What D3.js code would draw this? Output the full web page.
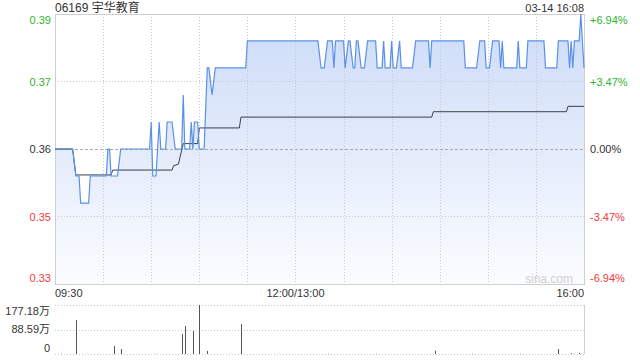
<!DOCTYPE html>
<html>
<head>
<meta charset="utf-8">
<script src="https://cdn.jsdelivr.net/npm/d3@7"></script>
<style>
  body { margin: 0; background: #fff; }
  text { font-family: "Liberation Sans", Arial, "Noto Sans CJK SC", sans-serif; }
</style>
</head>
<body>
<div id="chart-container"></div>
<script>
// minutes since 09:30 (trading time, lunch break removed) and price at that minute
const priceTimes = [0, 11, 13, 15, 16, 21, 22, 32, 33, 34, 35, 39, 41, 59, 60, 61, 63, 65, 66, 69, 70, 73, 75,
    79, 80, 81, 84, 85, 86, 87, 89, 90, 93, 95, 96, 98, 100, 119, 120, 164, 166, 168, 170, 173, 174, 175,
    180, 181, 183, 184, 186, 187, 188, 189, 191, 193, 195, 200, 201, 204, 205, 206, 209, 210, 211, 213,
    215, 216, 223, 225, 233, 234, 235, 255, 256, 263, 265, 268, 269, 271, 273, 277, 278, 279, 280, 288,
    289, 290, 294, 295, 305, 306, 313, 314, 320, 321, 322, 323, 324, 327, 328, 330];
const prices = [0.36, 0.36, 0.355, 0.355, 0.35, 0.35, 0.355, 0.355, 0.36, 0.36, 0.355, 0.355, 0.36, 0.36, 0.365, 0.355, 0.355, 0.365, 0.36, 0.36, 0.365, 0.365, 0.36,
    0.36, 0.37, 0.36, 0.36, 0.365, 0.36, 0.365, 0.365, 0.36, 0.36, 0.375, 0.375, 0.37, 0.375, 0.375, 0.38, 0.38, 0.375, 0.375, 0.38, 0.38, 0.375, 0.38,
    0.38, 0.375, 0.38, 0.38, 0.375, 0.375, 0.38, 0.38, 0.375, 0.375, 0.38, 0.38, 0.375, 0.375, 0.38, 0.375, 0.375, 0.38, 0.375, 0.375,
    0.38, 0.375, 0.375, 0.38, 0.38, 0.375, 0.38, 0.38, 0.375, 0.375, 0.38, 0.38, 0.375, 0.375, 0.38, 0.38, 0.375, 0.38, 0.375, 0.375,
    0.38, 0.375, 0.375, 0.38, 0.38, 0.375, 0.375, 0.38, 0.38, 0.375, 0.38, 0.375, 0.38, 0.38, 0.385, 0.375];

// running average price
const avgTimes = [0, 11, 13, 35, 36, 73, 74, 77, 78, 80, 89, 90, 115, 116, 235, 236, 319, 320, 330];
const avgPrices = [0.36, 0.36, 0.3552, 0.3552, 0.3561, 0.3561, 0.3569, 0.3572, 0.3585, 0.361, 0.361, 0.3639, 0.3639, 0.3659, 0.3659, 0.3669, 0.3669, 0.3679, 0.3679];

// volume bars, in 万 shares
const volTimes = [4, 13, 20, 27, 37, 41, 52, 63, 79, 81, 86, 90, 95, 110, 116, 140, 170, 200, 237, 260, 290, 314, 322, 327];
const volumes = [0.8, 123, 0.9, 0.6, 29, 18, 0.7, 0.9, 72, 101, 83, 177.18, 11, 0.8, 108, 0.9, 0.8, 0.7, 12, 0.9, 0.8, 18, 2.5, 4];

const prevClose = 0.36;
const pctTicks = [6.94, 3.47, 0, -3.47, -6.94];
const priceTickLabels = ["0.39", "0.37", "0.36", "0.35", "0.33"];
const pctTickLabels = ["+6.94%", "+3.47%", "0.00%", "-3.47%", "-6.94%"];
const volTicks = [177.18, 88.59, 0];
const volTickLabels = ["177.18万", "88.59万", "0"];
const timeTicks = [0, 150, 330];
const timeTickLabels = ["09:30", "12:00/13:00", "16:00"];

const width = 640, height = 360;
const plotLeft = 55, plotRight = 584, plotTop = 14, plotBottom = 284;
const volTop = 305, volBottom = 354;

const green = "#2fb52f", red = "#f03c3c", dark = "#333";
const tickColor = (v) => v > 0 ? green : (v < 0 ? red : dark);

const svg = d3.select("#chart-container")
    .append("svg")
        .attr("width", width)
        .attr("height", height);

const x = d3.scaleLinear().domain([0, 330]).range([plotLeft, plotRight]);
const y = d3.scaleLinear()
    .domain([prevClose * (1 - 0.0694), prevClose * (1 + 0.0694)])
    .range([plotBottom, plotTop]);
const yVol = d3.scaleLinear().domain([0, 177.18]).range([volBottom, volTop]);

// gradient for the area under the price line
const grad = svg.append("defs").append("linearGradient")
    .attr("id", "areaFill")
    .attr("x1", 0).attr("y1", 0).attr("x2", 0).attr("y2", 1);
grad.append("stop").attr("offset", "0%").attr("stop-color", "#cbdbf7");
grad.append("stop").attr("offset", "100%").attr("stop-color", "#fbfcff");

const priceData = priceTimes.map((t, i) => ({ t, p: prices[i] }));
const avgData = avgTimes.map((t, i) => ({ t, p: avgPrices[i] }));

// area
svg.append("path")
    .datum(priceData)
    .attr("fill", "url(#areaFill)")
    .attr("d", d3.area().x(d => x(d.t)).y0(plotBottom).y1(d => y(d.p)));

// vertical grid
svg.append("g")
    .selectAll("line")
    .data(d3.range(30, 330, 30))
    .enter().append("line")
        .attr("x1", d => Math.round(x(d)) + 0.5).attr("x2", d => Math.round(x(d)) + 0.5)
        .attr("y1", plotTop).attr("y2", plotBottom)
        .attr("stroke", "#c8c8c8")
        .attr("stroke-dasharray", "1,2");

// horizontal grid
const pctToPrice = v => prevClose * (1 + v / 100);
svg.append("g")
    .selectAll("line")
    .data(pctTicks.slice(1, -1))
    .enter().append("line")
        .attr("x1", plotLeft).attr("x2", plotRight)
        .attr("y1", d => Math.round(y(pctToPrice(d))) + 0.5)
        .attr("y2", d => Math.round(y(pctToPrice(d))) + 0.5)
        .attr("stroke", d => d === 0 ? "#aaa" : "#c8c8c8")
        .attr("stroke-dasharray", d => d === 0 ? "3,2" : "1,2");

// frame
svg.append("rect")
    .attr("x", plotLeft + 0.5).attr("y", plotTop + 0.5)
    .attr("width", plotRight - plotLeft).attr("height", plotBottom - plotTop)
    .attr("fill", "none")
    .attr("stroke", "#cfcfcf");

// watermark
svg.append("text")
    .attr("x", 573).attr("y", 283)
    .attr("text-anchor", "end")
    .attr("font-size", 12)
    .attr("fill", "#d0d0d0")
    .text("sina.com");

// average line
svg.append("path")
    .datum(avgData)
    .attr("fill", "none")
    .attr("stroke", "#3a3f4a")
    .attr("stroke-width", 1)
    .attr("d", d3.line().x(d => x(d.t)).y(d => y(d.p)));

// price line
svg.append("path")
    .datum(priceData)
    .attr("fill", "none")
    .attr("stroke", "#5a90e8")
    .attr("stroke-width", 1.2)
    .attr("d", d3.line().x(d => x(d.t)).y(d => y(d.p)));

// left price labels
const labelY = (v, i) => {
    const yy = y(pctToPrice(v));
    if (i === 0) return yy + 6;
    if (i === pctTicks.length - 1) return yy - 6;
    return yy;
};
svg.append("g")
    .selectAll("text")
    .data(pctTicks)
    .enter().append("text")
        .attr("x", 51)
        .attr("y", (d, i) => labelY(d, i) + 4)
        .attr("text-anchor", "end")
        .attr("font-size", 11)
        .attr("fill", d => tickColor(d))
        .text((d, i) => priceTickLabels[i]);

// right percent labels
svg.append("g")
    .selectAll("text")
    .data(pctTicks)
    .enter().append("text")
        .attr("x", 590)
        .attr("y", (d, i) => labelY(d, i) + 4)
        .attr("font-size", 11)
        .attr("fill", d => tickColor(d))
        .text((d, i) => pctTickLabels[i]);

// time labels
svg.append("g")
    .selectAll("text")
    .data(timeTicks)
    .enter().append("text")
        .attr("x", d => x(d))
        .attr("y", 297)
        .attr("text-anchor", (d, i) => i === 0 ? "start" : (i === timeTicks.length - 1 ? "end" : "middle"))
        .attr("font-size", 11)
        .attr("fill", dark)
        .text((d, i) => timeTickLabels[i]);

// title and timestamp
svg.append("text")
    .attr("x", 55).attr("y", 12)
    .attr("font-size", 12)
    .attr("fill", dark)
    .text("06169 宇华教育");
svg.append("text")
    .attr("x", 584).attr("y", 12)
    .attr("text-anchor", "end")
    .attr("font-size", 11)
    .attr("fill", dark)
    .text("03-14 16:08");

// volume panel grid
svg.append("g")
    .selectAll("line")
    .data(volTicks)
    .enter().append("line")
        .attr("x1", plotLeft).attr("x2", plotRight)
        .attr("y1", d => Math.round(yVol(d)) + 0.5)
        .attr("y2", d => Math.round(yVol(d)) + 0.5)
        .attr("stroke", "#c8c8c8")
        .attr("stroke-dasharray", "1,2");
svg.append("line")
    .attr("x1", plotRight + 0.5).attr("x2", plotRight + 0.5)
    .attr("y1", volTop).attr("y2", volBottom)
    .attr("stroke", "#cfcfcf");

// volume bars
svg.append("g")
    .selectAll("line")
    .data(volTimes.map((t, i) => ({ t, v: volumes[i] })))
    .enter().append("line")
        .attr("x1", d => Math.round(x(d.t)) + 0.5)
        .attr("x2", d => Math.round(x(d.t)) + 0.5)
        .attr("y1", volBottom)
        .attr("y2", d => yVol(d.v))
        .attr("stroke", "#555");

// volume labels
svg.append("g")
    .selectAll("text")
    .data(volTicks)
    .enter().append("text")
        .attr("x", 50)
        .attr("y", (d, i) => [315, 333, 352][i])
        .attr("text-anchor", "end")
        .attr("font-size", 11)
        .attr("fill", dark)
        .text((d, i) => volTickLabels[i]);
</script>
</body>
</html>
